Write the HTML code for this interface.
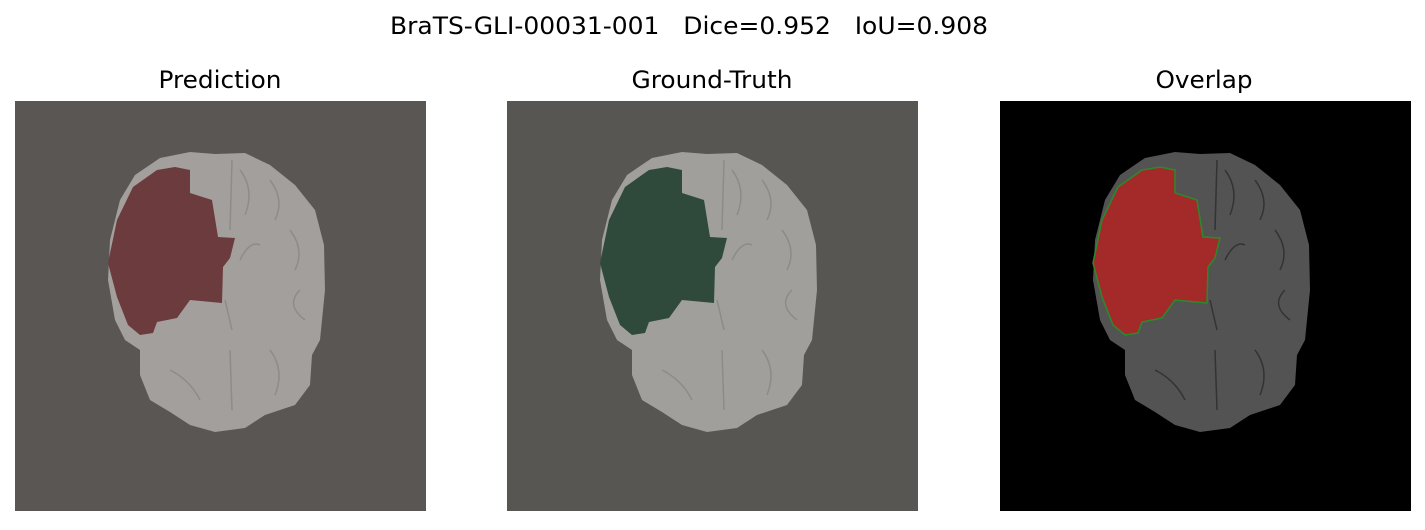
<!DOCTYPE html>
<html><head><meta charset="utf-8"><style>
body{margin:0;background:#fff;width:1425px;height:526px;overflow:hidden;font-family:"DejaVu Sans","Liberation Sans",sans-serif}
</style></head><body>
<svg width="1425" height="526" viewBox="0 0 1425 526" font-family="DejaVu Sans, Liberation Sans, sans-serif">
<defs>
<polygon id="brain" points="160,158 190,152 215,154 245,153 270,165 295,185 315,210 324,245 325,290 320,340 312,355 310,385 295,405 265,415 245,428 215,432 190,425 170,412 150,400 140,375 140,350 125,340 115,320 108,280 110,240 120,200 135,175"/>
<polygon id="tumor" points="157,170 175,167 190,170 190,193 212,200 218,237 235,238 230,258 223,267 222,303 190,300 177,318 157,322 153,333 140,335 128,325 117,297 108,263 117,220 133,187"/>
<g id="sulci" fill="none" stroke-width="1.5">
<path d="M232,160 L230,230"/><path d="M240,170 Q255,190 245,215"/><path d="M270,180 Q285,200 275,220"/><path d="M290,230 Q305,250 295,270"/><path d="M300,290 Q285,305 305,320"/><path d="M240,260 Q250,240 260,245"/><path d="M225,300 L232,330"/><path d="M230,350 L232,410"/><path d="M170,370 Q190,380 200,400"/><path d="M270,350 Q285,370 275,395"/>
</g>
</defs>
<text x="689" y="34" text-anchor="middle" font-size="24" textLength="598" lengthAdjust="spacingAndGlyphs" fill="#000" xml:space="preserve">BraTS-GLI-00031-001   Dice=0.952   IoU=0.908</text>

<g>
<text x="220" y="88" text-anchor="middle" font-size="24" textLength="123" lengthAdjust="spacingAndGlyphs">Prediction</text>
<rect x="15" y="101" width="411" height="410" fill="#5a5653"/>
<use href="#brain" fill="#a29f9c"/>
<use href="#sulci" stroke="#8e8b88"/>
<use href="#tumor" fill="#6b3b3e"/>
</g>

<g>
<text x="712" y="88" text-anchor="middle" font-size="24" textLength="161" lengthAdjust="spacingAndGlyphs">Ground-Truth</text>
<rect x="507" y="101" width="411" height="410" fill="#575653"/>
<g transform="translate(492,0)">
<use href="#brain" fill="#a09f9c"/>
<use href="#sulci" stroke="#8c8b88"/>
<use href="#tumor" fill="#2f4a3b"/>
</g>
</g>

<g>
<text x="1204" y="88" text-anchor="middle" font-size="24" textLength="97" lengthAdjust="spacingAndGlyphs">Overlap</text>
<rect x="1000" y="101" width="411" height="410" fill="#000"/>
<g transform="translate(985,0)">
<use href="#brain" fill="#535353"/>
<use href="#sulci" stroke="#333"/>
<use href="#tumor" fill="#a42a2a" stroke="#2a8a2a" stroke-width="1.5"/>
</g>
</g>
</svg>
</body></html>
